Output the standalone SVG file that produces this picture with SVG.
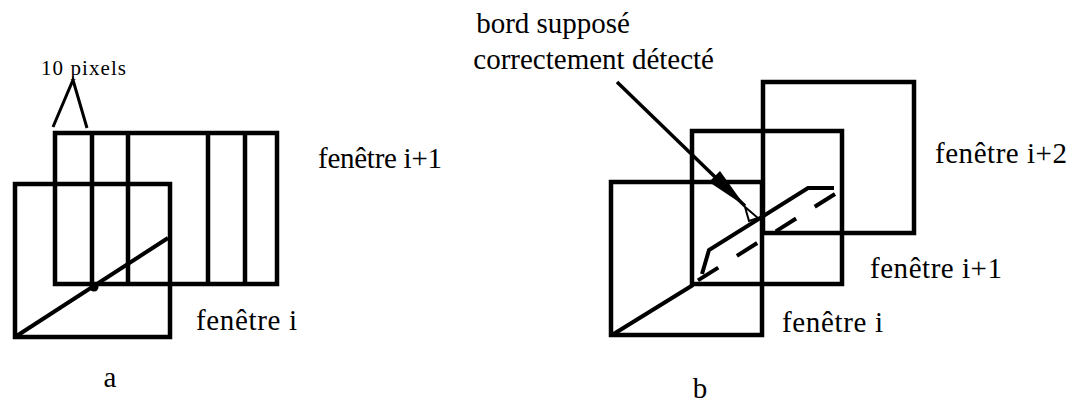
<svg xmlns="http://www.w3.org/2000/svg" width="1074" height="403" viewBox="0 0 1074 403">
<style>
.win{fill:none;stroke:#000;stroke-width:4.5;stroke-linejoin:miter}
.ln{fill:none;stroke:#000;stroke-width:4;stroke-linecap:butt}
.thin{fill:none;stroke:#000;stroke-width:3}
text{font-family:'Liberation Serif','Times New Roman',serif;fill:#000}
.lbl{font-size:29px}
.small{font-size:21px}
</style>
<rect width="1074" height="403" fill="#fff"/>
<!-- Panel a -->
<g id="a-window-i1">
<rect class="win" x="55" y="133" width="222" height="151"/>
<line class="win" x1="92" y1="133" x2="92" y2="284"/>
<line class="win" x1="128" y1="133" x2="128" y2="284"/>
<line class="win" x1="208" y1="133" x2="208" y2="284"/>
<line class="win" x1="245" y1="133" x2="245" y2="284"/>
<text class="lbl" x="318" y="168" textLength="124">fenêtre i+1</text>
</g>
<g id="a-window-i">
<rect class="win" x="15" y="184" width="155" height="153"/>
<text class="lbl" x="196" y="330" textLength="101">fenêtre i</text>
</g>
<g id="a-edge">
<line class="ln" x1="15" y1="337" x2="168" y2="238"/>
<circle cx="94" cy="287" r="4.5" fill="#000"/>
</g>
<g id="a-pixels-label">
<text class="small" x="41" y="75" textLength="85">10 pixels</text>
</g>
<g id="a-caption"><text class="lbl" x="110" y="387" text-anchor="middle">a</text></g>
<!-- Panel b -->
<g id="b-window-i">
<rect class="win" x="611" y="182" width="151" height="153"/>
<text class="lbl" x="782" y="332" textLength="101">fenêtre i</text>
</g>
<g id="b-window-i1">
<rect class="win" x="692" y="131" width="150" height="153"/>
<text class="lbl" x="870" y="278" textLength="132">fenêtre i+1</text>
</g>
<g id="b-window-i2">
<rect class="win" x="763" y="82" width="151" height="151"/>
<text class="lbl" x="935" y="163" textLength="132">fenêtre i+2</text>
</g>
<g id="b-edge">
<line class="ln" x1="612" y1="335" x2="693" y2="285"/>
<polyline class="ln" points="702,274 709,250 808,188 834,188"/>
<line class="ln" x1="835" y1="194" x2="697" y2="281" stroke-dasharray="24 22"/>
</g>
<g id="b-annotation">
<text class="lbl" x="630" y="33" text-anchor="end">bord supposé</text>
<text class="lbl" x="714" y="69" text-anchor="end">correctement détecté</text>
</g>
<g id="b-caption"><text class="lbl" x="700" y="398" text-anchor="middle">b</text></g>
<!-- Connectors -->
<g id="connectors">
<polyline class="thin" points="53,127 73,80 87,128"/>
<line x1="617" y1="82" x2="745" y2="206" stroke="#000" stroke-width="3.5"/>
<polygon points="709,182 720,171 745,206" fill="#000"/>
<polygon points="745,207 749,221 758,218" fill="none" stroke="#000" stroke-width="2"/>
</g>
</svg>
